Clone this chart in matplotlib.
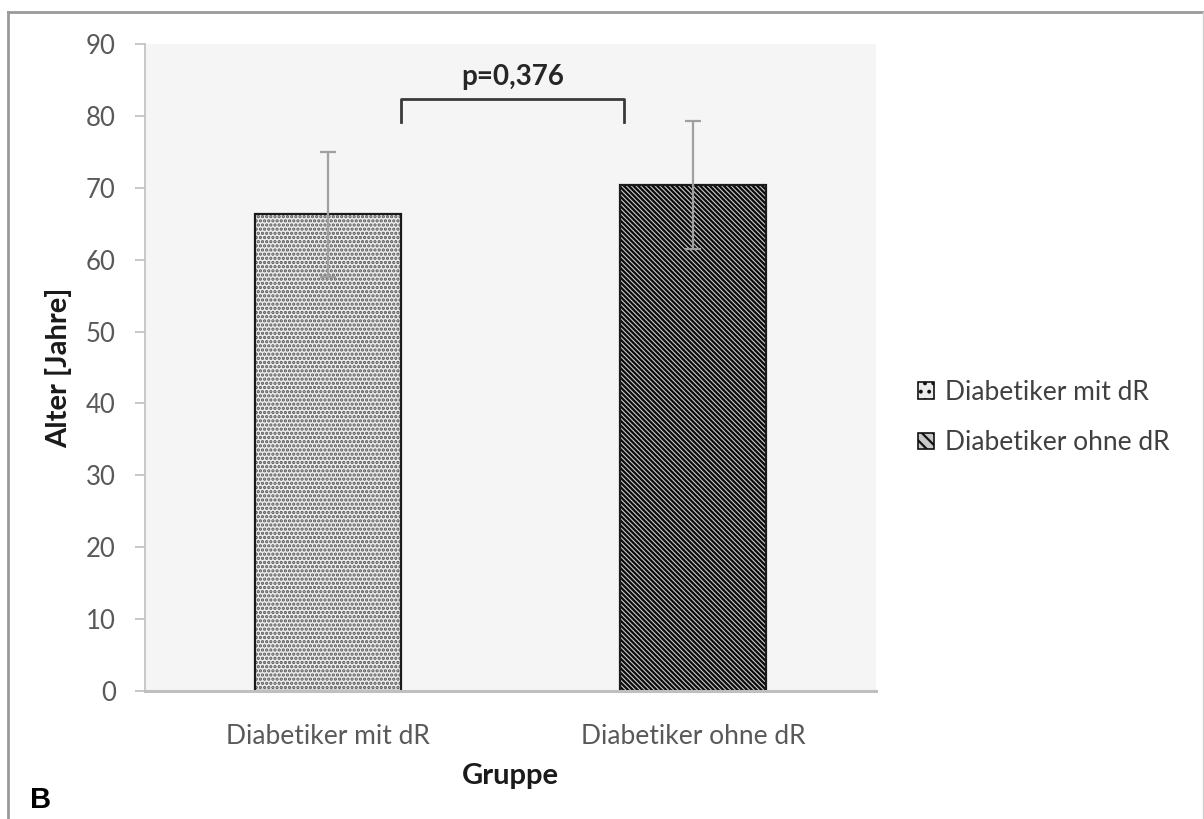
import matplotlib
matplotlib.use("Agg")
import matplotlib.pyplot as plt
from matplotlib.lines import Line2D
from matplotlib.patches import Patch

# data
gruppen = ["Diabetiker mit dR", "Diabetiker ohne dR"]
alter_mittel = [66.3, 70.4]
alter_sd = [8.7, 8.9]
p_text = "p=0,376"

plt.rcParams["font.family"] = ["Lato", "DejaVu Sans"]
plt.rcParams["hatch.linewidth"] = 1.6

fig = plt.figure(figsize=(12.04, 8.19), dpi=100)
ax = fig.add_axes([0.1204, 0.1563, 0.6072, 0.79])
ax.set_facecolor("#f5f5f5")

x = range(len(gruppen))
fills = ["#ececec", "#c8c8c8"]
hatch_col = ["#555555", "#0a0a0a"]
hatches = ["....", "\\\\\\\\\\\\\\"]

# hatched fill first, then outline on top
fill_bars = ax.bar(x, alter_mittel, width=0.4, color=fills, edgecolor=hatch_col,
                   linewidth=0, zorder=2)
for b, h in zip(fill_bars, hatches):
    b.set_hatch(h)
ax.bar(x, alter_mittel, width=0.4, fill=False, edgecolor="#1a1a1a",
       linewidth=1.6, zorder=2.5)
ax.errorbar(x, alter_mittel, yerr=alter_sd, fmt="none", ecolor="#a0a0a0",
            elinewidth=1.6, capsize=6, capthick=1.6, zorder=3)

# significance bracket
ax.plot([0.2, 0.2, 0.81, 0.81], [79.1, 82.3, 82.3, 79.1], color="#3a3a3a",
        lw=2, zorder=3, solid_joinstyle="round")
ax.text(0.505, 83.6, p_text, ha="center", va="bottom", fontsize=20,
        fontweight="bold", color="#262626")

ax.set_xlim(-0.5, 1.5)
ax.set_ylim(0, 90)
ax.set_yticks(range(0, 91, 10))
ax.set_xticks(list(x))
ax.set_xticklabels(gruppen)
ax.tick_params(axis="y", colors="#bfbfbf", labelcolor="#595959", labelsize=18.5,
               length=7, width=1.2, direction="out", pad=14)
ax.tick_params(axis="x", length=0, labelcolor="#595959", labelsize=19, pad=24)
for s in ["top", "right"]:
    ax.spines[s].set_visible(False)
ax.spines["left"].set_color("#bfbfbf")
ax.spines["left"].set_linewidth(1.2)
ax.spines["bottom"].set_color("#bfbfbf")
ax.spines["bottom"].set_linewidth(2.2)

ax.set_ylabel("Alter [Jahre]", fontsize=21, fontweight="bold", color="#1a1a1a", labelpad=10)
ax.set_xlabel("Gruppe", fontsize=21, fontweight="bold", color="#1a1a1a", labelpad=10)

handles = [Patch(facecolor=f, edgecolor="#111111", hatch=h, linewidth=1.2)
           for f, h in zip(fills, ["..", "\\\\\\"])]
fig.legend(handles=handles, labels=gruppen, loc="center left",
           bbox_to_anchor=(0.743, 0.49), frameon=False, fontsize=19,
           handlelength=0.6, handleheight=0.6, handletextpad=0.4,
           labelspacing=0.95, labelcolor="#404040")

fig.text(0.025, 0.013, "B", fontsize=21, fontweight="bold", family="Liberation Sans")

# outer frame
fc = "#9a9a9a"
fig.add_artist(Line2D([8 / 1204, 1203 / 1204], [1 - 12 / 819, 1 - 12 / 819], color=fc, lw=2))
fig.add_artist(Line2D([8 / 1204, 8 / 1204], [0, 1 - 12 / 819], color=fc, lw=2))
fig.add_artist(Line2D([1203 / 1204, 1203 / 1204], [0, 1 - 12 / 819], color="#d0d0d0", lw=1))

fig.savefig("out.png", dpi=100)
